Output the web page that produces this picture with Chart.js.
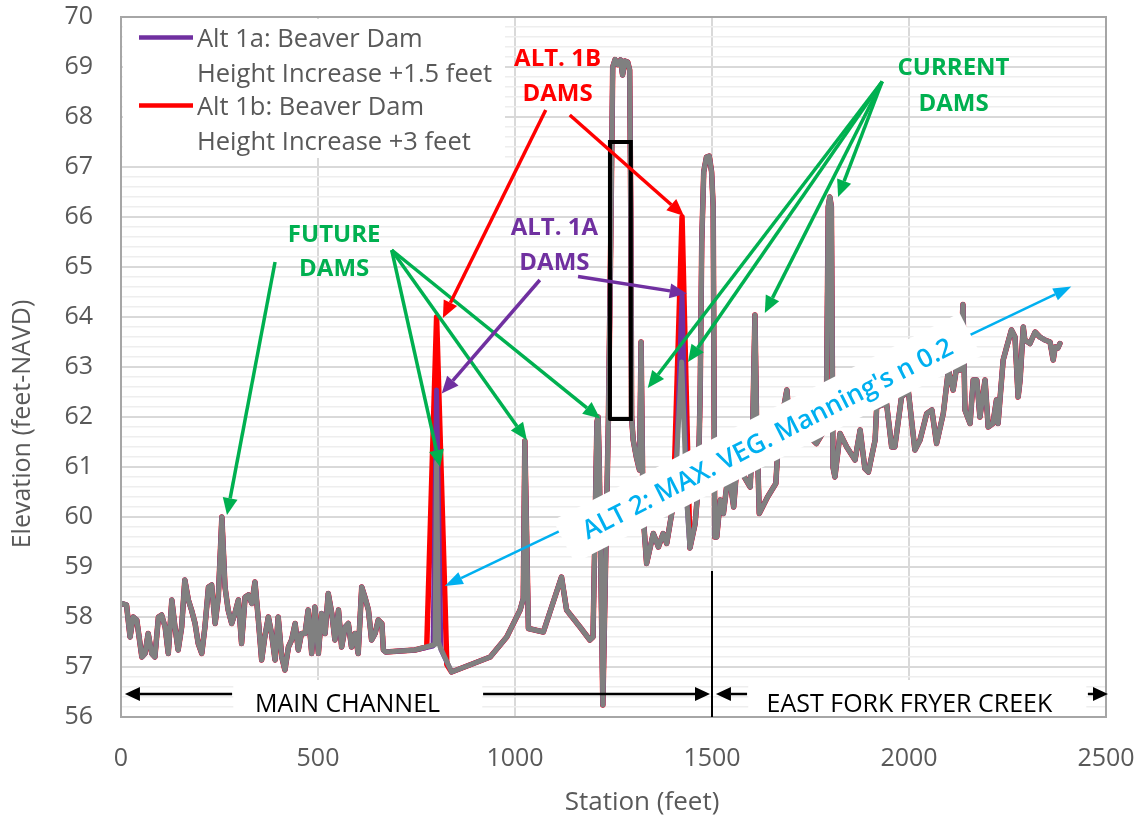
<!DOCTYPE html>
<html>
<head>
<meta charset="utf-8">
<script src="https://cdn.jsdelivr.net/npm/chart.js@4.4.1/dist/chart.umd.min.js"></script>
<style>
  html, body { margin: 0; padding: 0; background: #ffffff; }
  #wrap { width: 1141px; height: 820px; }
</style>
</head>
<body>
<div id="wrap"><canvas id="profile" width="1141" height="820"></canvas></div>
<script>
// Thalweg profile (existing ground with Alt 2 vegetation), station in feet, elevation in feet-NAVD
const station = [
  2, 14, 23, 31, 40, 53, 61, 69, 78, 86, 95, 103, 112, 120, 129, 137, 145, 154, 162, 171,
  179, 188, 196, 205, 213, 222, 230, 239, 247, 256, 264, 272, 281, 289, 298, 306, 315, 323, 332, 340,
  348, 357, 365, 374, 382, 391, 399, 408, 416, 425, 433, 442, 450, 458, 467, 475, 484, 492, 501, 509,
  518, 526, 535, 543, 552, 560, 569, 577, 585, 594, 602, 611, 619, 628, 636, 645, 653, 662, 666, 672,
  746, 797, 801, 806, 810, 839, 937, 979, 1013, 1021, 1025, 1034, 1072, 1118, 1131, 1165, 1190, 1198, 1208, 1211,
  1214, 1223, 1237, 1243, 1248, 1254, 1261, 1268, 1273, 1279, 1286, 1291, 1294, 1296, 1300, 1308, 1316, 1320, 1325, 1334,
  1351, 1364, 1376, 1385, 1402, 1410, 1423, 1436, 1444, 1457, 1465, 1470, 1474, 1479, 1486, 1493, 1499, 1503, 1507, 1512,
  1521, 1529, 1537, 1546, 1555, 1563, 1579, 1597, 1603, 1609, 1613, 1620, 1641, 1662, 1667, 1680, 1690, 1700, 1723, 1748,
  1765, 1790, 1795, 1799, 1803, 1807, 1812, 1825, 1842, 1863, 1876, 1888, 1897, 1914, 1918, 1943, 1956, 1964, 1981, 1998,
  2015, 2028, 2045, 2058, 2070, 2087, 2100, 2112, 2121, 2129, 2137, 2142, 2155, 2163, 2172, 2180, 2193, 2201, 2213, 2222,
  2226, 2239, 2248, 2260, 2269, 2277, 2282, 2290, 2294, 2307, 2320, 2332, 2345, 2358, 2366, 2371, 2378, 2383
];
const elevation = [
  58.27, 58.24, 57.6, 58.0, 57.94, 57.2, 57.27, 57.67, 57.27, 57.2, 58.0, 58.04, 57.8, 57.27, 58.34, 57.8, 57.34, 57.8, 58.74, 58.34,
  58.14, 57.87, 57.47, 57.27, 57.8, 58.6, 58.64, 57.87, 58.4, 60.0, 58.6, 58.14, 57.87, 58.07, 58.34, 57.47, 58.4, 58.44, 58.27, 58.7,
  58.0, 57.14, 57.6, 58.0, 57.67, 57.14, 58.0, 57.2, 56.94, 57.4, 57.54, 57.87, 57.34, 57.67, 57.67, 58.14, 57.27, 58.2, 57.27, 58.07,
  57.67, 58.47, 58.07, 57.54, 58.14, 57.4, 57.8, 57.87, 57.4, 57.67, 57.27, 58.6, 58.4, 58.14, 57.54, 57.67, 57.94, 57.87, 57.34, 57.3,
  57.34, 57.45, 61.1, 57.5, 57.4, 56.9, 57.2, 57.6, 58.14, 58.37, 61.52, 57.77, 57.7, 58.8, 58.14, 57.8, 57.54, 57.6, 61.9, 62.0,
  61.0, 56.24, 61.94, 65.5, 69.0, 69.15, 69.05, 69.14, 68.84, 69.12, 69.1, 68.94, 66.0, 62.0, 61.54, 61.2, 60.94, 63.5, 60.07, 59.07,
  59.67, 59.4, 59.67, 59.47, 60.27, 61.14, 63.1, 60.34, 59.38, 59.86, 60.6, 62.5, 65.5, 66.9, 67.2, 67.22, 66.9, 66.2, 59.6, 59.6,
  60.34, 60.07, 60.6, 60.7, 60.2, 61.0, 60.84, 60.6, 61.7, 64.04, 62.0, 60.07, 60.4, 60.67, 61.34, 62.1, 62.54, 61.6, 61.54, 61.6,
  61.47, 61.8, 66.2, 66.4, 66.2, 61.0, 60.8, 61.67, 61.4, 61.14, 61.74, 60.97, 60.9, 61.54, 62.2, 62.27, 61.4, 61.4, 62.4, 62.54,
  61.34, 61.54, 62.07, 62.14, 61.47, 62.07, 62.94, 62.54, 63.0, 62.94, 64.25, 62.14, 61.87, 62.74, 62.74, 62.0, 62.74, 61.8, 61.87, 62.34,
  61.87, 63.14, 63.4, 63.74, 63.6, 62.4, 62.74, 63.8, 63.54, 63.47, 63.7, 63.6, 63.54, 63.5, 63.14, 63.4, 63.38, 63.47
];

// Alt 1a: dams raised 1.5 ft
const alt1aStation = [792, 801, 812, 1424];
const alt1aElevation = [57.42, 62.54, 57.35, 64.46];
const alt1aReaches = [[790, 830], [1420, 1426]];

// Alt 1b: dams raised 3 ft
const alt1bStation = [776, 801, 827, 1424];
const alt1bElevation = [57.4, 64.0, 57.05, 66.0];
const alt1bReaches = [[770, 835], [1405, 1440]];

// Outline around the high ground near station 1270
const boxStation = [1241, 1241, 1294, 1294, 1241];
const boxElevation = [61.96, 67.5, 67.5, 61.96, 61.96];

// Axis ticks
const xTicks = [0, 500, 1000, 1500, 2000, 2500];
const yTicks = [56, 57, 58, 59, 60, 61, 62, 63, 64, 65, 66, 67, 68, 69, 70];
const yMinorStep = 0.2;

const xTitle = 'Station (feet)';
const yTitle = 'Elevation (feet-NAVD)';

const FONT = '"Open Sans", "Noto Sans", sans-serif';

function profile(st, el) {
  return st.map((s, i) => ({ x: s, y: el[i] }));
}
function raiseDams(reaches, damStation, damElevation) {
  const kept = profile(station, elevation)
    .filter(p => !reaches.some(r => p.x >= r[0] && p.x <= r[1]));
  return kept.concat(profile(damStation, damElevation)).sort((a, b) => a.x - b.x);
}

// Annotation layout (data units: station, elevation)
const futureArrows = [
  [391, 65.1, 269, 60.04],
  [687, 65.34, 810, 61.0],
  [687, 65.34, 1030, 61.54],
  [687, 65.34, 1216, 61.97]
];
const currentArrows = [
  [1932, 68.71, 1337, 62.58],
  [1932, 68.71, 1439, 63.1],
  [1932, 68.71, 1634, 64.08],
  [1932, 68.71, 1820, 66.4]
];
const alt1bArrows = [
  [1078, 68.14, 817, 63.98],
  [1139, 68.04, 1429, 66.02]
];
const alt1aArrows = [
  [1063, 64.74, 814, 62.47],
  [1160, 64.81, 1436, 64.47]
];
const alt2Arrow = [822, 58.62, 2412, 64.61];

function arrowHead(ctx, x1, y1, x2, y2, hl, hw) {
  const a = Math.atan2(y2 - y1, x2 - x1);
  const bx = x2 - hl * Math.cos(a), by = y2 - hl * Math.sin(a);
  ctx.beginPath();
  ctx.moveTo(x2, y2);
  ctx.lineTo(bx + hw / 2 * Math.sin(a), by - hw / 2 * Math.cos(a));
  ctx.lineTo(bx - hw / 2 * Math.sin(a), by + hw / 2 * Math.cos(a));
  ctx.closePath();
  ctx.fill();
  return [bx, by];
}
function arrow(ctx, x1, y1, x2, y2, color, lw, hl, hw, both) {
  ctx.strokeStyle = color;
  ctx.fillStyle = color;
  ctx.lineWidth = lw;
  ctx.lineCap = 'butt';
  const end = arrowHead(ctx, x1, y1, x2, y2, hl, hw);
  let start = [x1, y1];
  if (both) start = arrowHead(ctx, x2, y2, x1, y1, hl, hw);
  ctx.beginPath();
  ctx.moveTo(start[0], start[1]);
  ctx.lineTo(end[0], end[1]);
  ctx.stroke();
}
// text centred on its cap height
function capText(ctx, text, cx, cy, size, weight, color) {
  ctx.font = weight + ' ' + size + 'px ' + FONT;
  ctx.fillStyle = color;
  ctx.textAlign = 'center';
  ctx.textBaseline = 'alphabetic';
  ctx.fillText(text, cx, cy + 0.357 * size);
}

const annotations = {
  id: 'annotations',
  afterDatasetsDraw(chart) {
    const { ctx, chartArea: a, scales: { x, y } } = chart;
    const px = s => x.getPixelForValue(s);
    const py = e => y.getPixelForValue(e);
    ctx.save();

    // plot area frame
    ctx.strokeStyle = '#a6a6a6';
    ctx.lineWidth = 2;
    ctx.strokeRect(a.left, a.top, a.right - a.left, a.bottom - a.top);

    // legend
    ctx.fillStyle = '#ffffff';
    ctx.fillRect(a.left + 2, a.top + 2, 382, 139);
    const legendItems = chart.data.datasets.filter(d => d.inLegend);
    legendItems.forEach((d, i) => {
      const top = a.top + i * 68;
      ctx.strokeStyle = d.borderColor;
      ctx.lineWidth = 4.5;
      ctx.beginPath();
      ctx.moveTo(a.left + 18, top + 20.5);
      ctx.lineTo(a.left + 72, top + 20.5);
      ctx.stroke();
      ctx.font = '25.5px ' + FONT;
      ctx.fillStyle = '#595959';
      ctx.textAlign = 'left';
      ctx.textBaseline = 'alphabetic';
      d.label.split('\n').forEach((line, j) => {
        ctx.fillText(line, a.left + 76, top + 29.7 + j * 35);
      });
    });

    // reach labels along the bottom
    ctx.fillStyle = '#ffffff';
    ctx.fillRect(px(285), py(56.74), px(917) - px(285), py(56) - py(56.74) - 1);
    ctx.fillRect(px(1592), py(56.74), px(2450) - px(1592), py(56) - py(56.74) - 1);
    capText(ctx, 'MAIN CHANNEL', px(575), py(56.28), 25, '400', '#000000');
    capText(ctx, 'EAST FORK FRYER CREEK', px(2001), py(56.28), 25, '400', '#000000');
    arrow(ctx, px(282), py(56.46), px(10), py(56.46), '#000000', 2.5, 15, 14);
    arrow(ctx, px(919), py(56.46), px(1495), py(56.46), '#000000', 2.5, 15, 14);
    arrow(ctx, px(1589), py(56.46), px(1510), py(56.46), '#000000', 2.5, 15, 14);
    arrow(ctx, px(2454), py(56.46), px(2505), py(56.46), '#000000', 2.5, 15, 14);
    ctx.strokeStyle = '#000000';
    ctx.lineWidth = 2;
    ctx.beginPath();
    ctx.moveTo(px(1500), py(58.92));
    ctx.lineTo(px(1500), py(56));
    ctx.stroke();

    // dam callouts
    futureArrows.forEach(r => arrow(ctx, px(r[0]), py(r[1]), px(r[2]), py(r[3]), '#00B050', 3.5, 17, 15));
    currentArrows.forEach(r => arrow(ctx, px(r[0]), py(r[1]), px(r[2]), py(r[3]), '#00B050', 3.5, 17, 15));
    alt1bArrows.forEach(r => arrow(ctx, px(r[0]), py(r[1]), px(r[2]), py(r[3]), '#FF0000', 3.5, 17, 15));
    alt1aArrows.forEach(r => arrow(ctx, px(r[0]), py(r[1]), px(r[2]), py(r[3]), '#7030A0', 3.5, 17, 15));

    capText(ctx, 'FUTURE', px(541), py(65.67), 24, 'bold', '#00B050');
    capText(ctx, 'DAMS', px(541), py(65.0), 24, 'bold', '#00B050');
    capText(ctx, 'ALT. 1B', px(1108), py(69.19), 24, 'bold', '#FF0000');
    capText(ctx, 'DAMS', px(1108), py(68.49), 24, 'bold', '#FF0000');
    capText(ctx, 'ALT. 1A', px(1100), py(65.82), 24, 'bold', '#7030A0');
    capText(ctx, 'DAMS', px(1100), py(65.12), 24, 'bold', '#7030A0');
    capText(ctx, 'CURRENT', px(2113), py(69.01), 24, 'bold', '#00B050');
    capText(ctx, 'DAMS', px(2113), py(68.3), 24, 'bold', '#00B050');

    // Alt 2 callout
    arrow(ctx, px(alt2Arrow[0]), py(alt2Arrow[1]), px(alt2Arrow[2]), py(alt2Arrow[3]), '#00B0F0', 2.5, 18, 13, true);
    ctx.save();
    ctx.translate(px(1640), py(61.58));
    ctx.rotate(-27 * Math.PI / 180);
    const label = "ALT 2: MAX. VEG. Manning's n 0.2";
    ctx.font = '600 26px ' + FONT;
    const w = ctx.measureText(label).width;
    ctx.fillStyle = '#ffffff';
    ctx.fillRect(-w / 2 - 22, -24, w + 44, 48);
    capText(ctx, label, 0, 0, 26, '600', '#00B0F0');
    ctx.restore();

    ctx.restore();
  },
  afterDraw(chart) {
    // axis titles
    const { ctx } = chart;
    ctx.save();
    ctx.fillStyle = '#595959';
    ctx.textAlign = 'center';
    ctx.textBaseline = 'middle';
    ctx.font = '26px ' + FONT;
    ctx.fillText(xTitle, 642, 803);
    ctx.translate(23, 424);
    ctx.rotate(-Math.PI / 2);
    ctx.font = '25px ' + FONT;
    ctx.fillText(yTitle, 0, 0);
    ctx.restore();
  }
};

new Chart(document.getElementById('profile'), {
  type: 'line',
  data: {
    datasets: [
      {
        label: "Alt 2: Max. Veg. Manning's n 0.2",
        data: profile(station, elevation),
        borderColor: '#808080',
        borderWidth: 5,
        order: 1
      },
      {
        label: 'Alt 1a: Beaver Dam\nHeight Increase +1.5 feet',
        data: raiseDams(alt1aReaches, alt1aStation, alt1aElevation),
        borderColor: '#7030A0',
        borderWidth: 5,
        order: 2,
        inLegend: true
      },
      {
        label: 'Alt 1b: Beaver Dam\nHeight Increase +3 feet',
        data: raiseDams(alt1bReaches, alt1bStation, alt1bElevation),
        borderColor: '#FF0000',
        borderWidth: 5.5,
        order: 3,
        inLegend: true
      },
      {
        label: 'High ground',
        data: profile(boxStation, boxElevation),
        borderColor: '#000000',
        borderWidth: 4,
        borderJoinStyle: 'miter',
        order: 0
      }
    ]
  },
  options: {
    responsive: false,
    animation: false,
    devicePixelRatio: 1,
    layout: { padding: { top: 17, right: 35, left: 0, bottom: 0 } },
    plugins: { legend: { display: false }, tooltip: { enabled: false } },
    elements: {
      point: { radius: 0 },
      line: { tension: 0, borderJoinStyle: 'round', borderCapStyle: 'round', fill: false }
    },
    scales: {
      x: {
        type: 'linear',
        min: xTicks[0],
        max: xTicks[xTicks.length - 1],
        ticks: {
          stepSize: xTicks[1] - xTicks[0],
          autoSkip: false,
          maxRotation: 0,
          padding: 27,
          color: '#595959',
          font: { family: FONT, size: 25 },
          callback: v => xTicks.includes(v) ? String(v) : ''
        },
        grid: { color: '#d9d9d9', lineWidth: 2, drawTicks: false },
        border: { display: false },
        title: { display: false },
        afterFit: s => { s.height = 103; s.paddingLeft = 0; s.paddingRight = 0; }
      },
      y: {
        type: 'linear',
        min: yTicks[0],
        max: yTicks[yTicks.length - 1],
        ticks: {
          stepSize: yMinorStep,
          autoSkip: false,
          padding: 28,
          color: '#595959',
          font: { family: FONT, size: 25 },
          callback: v => {
            const r = Math.round(v);
            return (Math.abs(v - r) < 1e-6 && yTicks.includes(r)) ? String(r) : '';
          }
        },
        grid: {
          drawTicks: false,
          color: c => Math.abs(c.tick.value - Math.round(c.tick.value)) < 1e-6 ? '#d9d9d9' : '#eeeeee',
          lineWidth: c => Math.abs(c.tick.value - Math.round(c.tick.value)) < 1e-6 ? 2 : 1.5
        },
        border: { display: false },
        title: { display: false },
        afterFit: s => { s.width = 121; s.paddingTop = 0; s.paddingBottom = 0; }
      }
    }
  },
  plugins: [annotations]
});
</script>
</body>
</html>
